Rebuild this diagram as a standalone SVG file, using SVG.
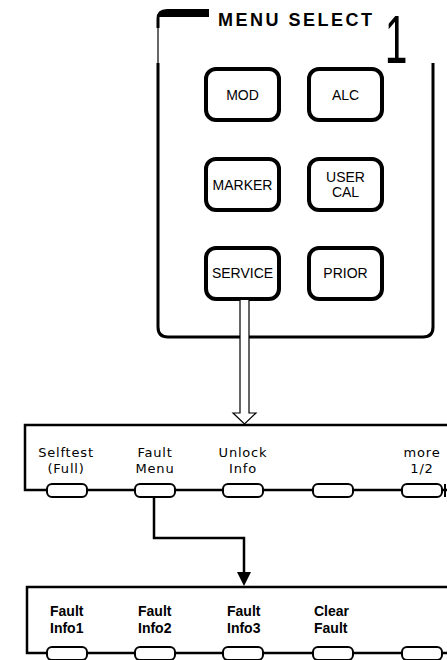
<svg xmlns="http://www.w3.org/2000/svg" width="447" height="660" viewBox="0 0 447 660">
<style>
.key{fill:#fff;stroke:#000;stroke-width:4}
.kt{font-family:"Liberation Sans",Arial,sans-serif;font-size:14px;text-anchor:middle;fill:#000}
.soft{fill:#fff;stroke:#000;stroke-width:2}
.panel{fill:none;stroke:#000;stroke-width:2.5}
.lt{font-family:"DejaVu Sans",sans-serif;font-size:13px;letter-spacing:0.8px;text-anchor:middle;fill:#000}
.bt{font-family:"Liberation Sans",Arial,sans-serif;font-weight:bold;font-size:14px;fill:#000}
.conn{fill:none;stroke:#000;stroke-width:2.5}
</style>
<g id="menu-select-panel">
<path d="M158,63 V327 Q158,337 168,337 H423 Q433,337 433,327 V63" fill="none" stroke="#000" stroke-width="3"/>
<line x1="158" y1="26" x2="158" y2="63" stroke="#000" stroke-width="1.2"/>
<path d="M156.5,28 V19 Q156.5,9 167,9 H209 V17 H159.5 V28 Z" fill="#000"/>
<text x="218" y="26" font-family="Liberation Sans,Arial,sans-serif" font-weight="bold" font-size="18" letter-spacing="2.5" fill="#000">MENU SELECT</text>
<text transform="translate(396,63) scale(0.6,1.02)" font-family="Liberation Sans,Arial,sans-serif" font-size="68" text-anchor="middle" fill="#000">1</text>
</g>
<g id="key-mod"><rect class="key" x="206" y="69" width="73" height="51" rx="10"/><text class="kt" x="242.5" y="100">MOD</text></g>
<g id="key-alc"><rect class="key" x="309" y="69" width="73" height="51" rx="10"/><text class="kt" x="345.5" y="100">ALC</text></g>
<g id="key-marker"><rect class="key" x="206" y="159" width="73" height="51" rx="10"/><text class="kt" x="242.5" y="190">MARKER</text></g>
<g id="key-usercal"><rect class="key" x="309" y="159" width="73" height="51" rx="10"/><text class="kt" x="345.5" y="182">USER</text><text class="kt" x="345.5" y="197">CAL</text></g>
<g id="key-service"><rect class="key" x="206" y="248" width="73" height="51" rx="10"/><text class="kt" x="242.5" y="278">SERVICE</text></g>
<g id="key-prior"><rect class="key" x="309" y="248" width="73" height="51" rx="10"/><text class="kt" x="345.5" y="278">PRIOR</text></g>
<g id="softkeys-1">
<path class="panel" d="M447,425 H25 V490 H447"/>
<line x1="445" y1="484" x2="445" y2="497" stroke="#000" stroke-width="2"/>
<rect class="soft" x="47" y="484" width="40" height="13" rx="5"/>
<rect class="soft" x="135" y="484" width="40" height="13" rx="5"/>
<rect class="soft" x="223" y="484" width="40" height="13" rx="5"/>
<rect class="soft" x="313" y="484" width="40" height="13" rx="5"/>
<rect class="soft" x="402" y="484" width="40" height="13" rx="5"/>
<text class="lt" x="66" y="457">Selftest</text><text class="lt" x="66" y="473">(Full)</text>
<text class="lt" x="155" y="457">Fault</text><text class="lt" x="155" y="473">Menu</text>
<text class="lt" x="243" y="457">Unlock</text><text class="lt" x="243" y="473">Info</text>
<text class="lt" x="422" y="457">more</text><text class="lt" x="422" y="473">1/2</text>
</g>
<g id="softkeys-2">
<path class="panel" d="M447,587 H27 V653 H447"/>
<rect class="soft" x="47" y="647" width="40" height="13" rx="5"/>
<rect class="soft" x="135" y="647" width="40" height="13" rx="5"/>
<rect class="soft" x="223" y="647" width="40" height="13" rx="5"/>
<rect class="soft" x="313" y="647" width="40" height="13" rx="5"/>
<rect class="soft" x="402" y="647" width="40" height="13" rx="5"/>
<text class="bt" x="50" y="616">Fault</text><text class="bt" x="50" y="633">Info1</text>
<text class="bt" x="138" y="616">Fault</text><text class="bt" x="138" y="633">Info2</text>
<text class="bt" x="227" y="616">Fault</text><text class="bt" x="227" y="633">Info3</text>
<text class="bt" x="314" y="616">Clear</text><text class="bt" x="314" y="633">Fault</text>
</g>
<g id="connectors">
<path d="M240,300 V413 H233 L244.5,424 L256,413 H249 V300 Z" fill="#fff" stroke="none"/>
<path d="M240,300 V413 H233 L244.5,424 L256,413 H249 V300" fill="none" stroke="#000" stroke-width="1.2"/>
<path class="conn" d="M154,497 V538 H244 V574"/>
<polygon points="237,572 251,572 244,586" fill="#000"/>
</g>
</svg>
